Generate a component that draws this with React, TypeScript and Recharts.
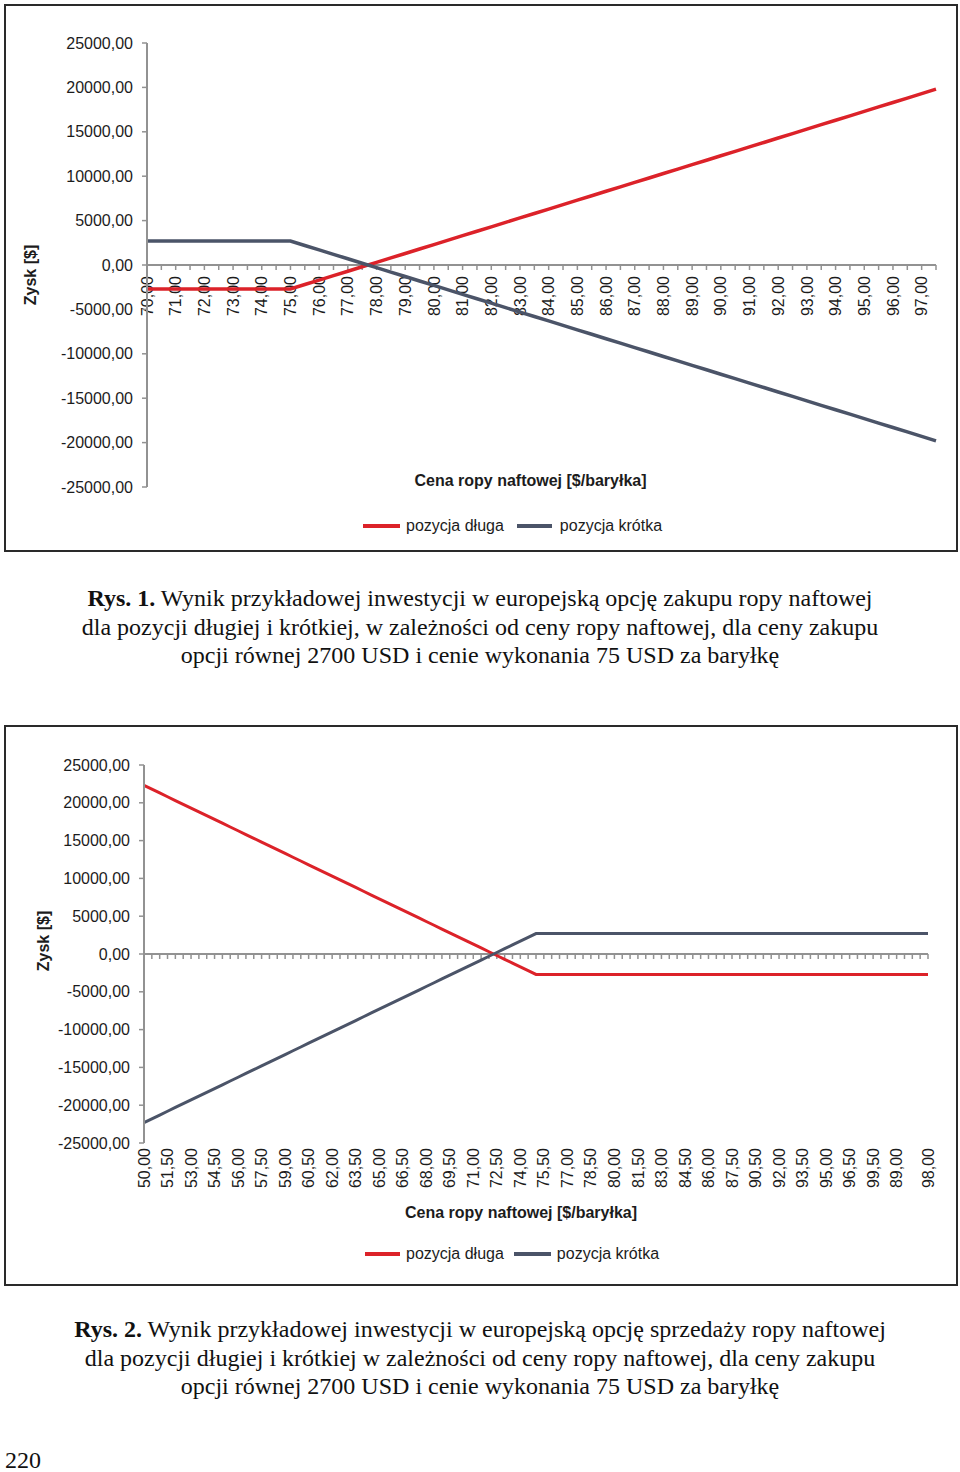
import React from 'react';
import { LineChart, Line, XAxis, YAxis, ReferenceLine, Legend } from 'recharts';

// ---------- Data: Rys. 1 (call option) ----------
const prices1 = [
  70, 70.5, 71, 71.5, 72, 72.5, 73, 73.5, 74, 74.5, 75, 75.5, 76, 76.5, 77, 77.5, 78, 78.5, 79, 79.5,
  80, 80.5, 81, 81.5, 82, 82.5, 83, 83.5, 84, 84.5, 85, 85.5, 86, 86.5, 87, 87.5, 88, 88.5, 89, 89.5,
  90, 90.5, 91, 91.5, 92, 92.5, 93, 93.5, 94, 94.5, 95, 95.5, 96, 96.5, 97, 97.5,
];
const long1 = [
  -2700, -2700, -2700, -2700, -2700, -2700, -2700, -2700, -2700, -2700, -2700, -2200, -1700, -1200, -700, -200,
  300, 800, 1300, 1800, 2300, 2800, 3300, 3800, 4300, 4800, 5300, 5800, 6300, 6800, 7300, 7800, 8300, 8800,
  9300, 9800, 10300, 10800, 11300, 11800, 12300, 12800, 13300, 13800, 14300, 14800, 15300, 15800, 16300,
  16800, 17300, 17800, 18300, 18800, 19300, 19800,
];
const short1 = [
  2700, 2700, 2700, 2700, 2700, 2700, 2700, 2700, 2700, 2700, 2700, 2200, 1700, 1200, 700, 200,
  -300, -800, -1300, -1800, -2300, -2800, -3300, -3800, -4300, -4800, -5300, -5800, -6300, -6800, -7300,
  -7800, -8300, -8800, -9300, -9800, -10300, -10800, -11300, -11800, -12300, -12800, -13300, -13800, -14300,
  -14800, -15300, -15800, -16300, -16800, -17300, -17800, -18300, -18800, -19300, -19800,
];

// ---------- Data: Rys. 2 (put option) ----------
const prices2 = [
  50, 50.5, 51, 51.5, 52, 52.5, 53, 53.5, 54, 54.5, 55, 55.5, 56, 56.5, 57, 57.5, 58, 58.5, 59, 59.5,
  60, 60.5, 61, 61.5, 62, 62.5, 63, 63.5, 64, 64.5, 65, 65.5, 66, 66.5, 67, 67.5, 68, 68.5, 69, 69.5,
  70, 70.5, 71, 71.5, 72, 72.5, 73, 73.5, 74, 74.5, 75, 75.5, 76, 76.5, 77, 77.5, 78, 78.5, 79, 79.5,
  80, 80.5, 81, 81.5, 82, 82.5, 83, 83.5, 84, 84.5, 85, 85.5, 86, 86.5, 87, 87.5, 88, 88.5, 89, 89.5,
  90, 90.5, 91, 91.5, 92, 92.5, 93, 93.5, 94, 94.5, 95, 95.5, 96, 96.5, 97, 97.5, 98, 98.5, 99, 99.5, 100,
];
const long2 = [
  22300, 21800, 21300, 20800, 20300, 19800, 19300, 18800, 18300, 17800, 17300, 16800, 16300, 15800, 15300,
  14800, 14300, 13800, 13300, 12800, 12300, 11800, 11300, 10800, 10300, 9800, 9300, 8800, 8300, 7800, 7300,
  6800, 6300, 5800, 5300, 4800, 4300, 3800, 3300, 2800, 2300, 1800, 1300, 800, 300, -200, -700, -1200, -1700,
  -2200, -2700,
  -2700, -2700, -2700, -2700, -2700, -2700, -2700, -2700, -2700, -2700, -2700, -2700, -2700, -2700, -2700,
  -2700, -2700, -2700, -2700, -2700, -2700, -2700, -2700, -2700, -2700, -2700, -2700, -2700, -2700, -2700,
  -2700, -2700, -2700, -2700, -2700, -2700, -2700, -2700, -2700, -2700, -2700, -2700, -2700, -2700, -2700,
  -2700, -2700, -2700, -2700, -2700,
];
const short2 = [
  -22300, -21800, -21300, -20800, -20300, -19800, -19300, -18800, -18300, -17800, -17300, -16800, -16300,
  -15800, -15300, -14800, -14300, -13800, -13300, -12800, -12300, -11800, -11300, -10800, -10300, -9800,
  -9300, -8800, -8300, -7800, -7300, -6800, -6300, -5800, -5300, -4800, -4300, -3800, -3300, -2800, -2300,
  -1800, -1300, -800, -300, 200, 700, 1200, 1700, 2200, 2700,
  2700, 2700, 2700, 2700, 2700, 2700, 2700, 2700, 2700, 2700, 2700, 2700, 2700, 2700, 2700,
  2700, 2700, 2700, 2700, 2700, 2700, 2700, 2700, 2700, 2700, 2700, 2700, 2700, 2700, 2700,
  2700, 2700, 2700, 2700, 2700, 2700, 2700, 2700, 2700, 2700, 2700, 2700, 2700, 2700, 2700,
  2700, 2700, 2700, 2700, 2700,
];
const ticks2 = [
  50, 51.5, 53, 54.5, 56, 57.5, 59, 60.5, 62, 63.5, 65, 66.5, 68, 69.5, 71, 72.5, 74, 75.5, 77, 78.5,
  80, 81.5, 83, 84.5, 86, 87.5, 89, 90.5, 92, 93.5, 95, 96.5, 98, 100,
];
const tickLabels2 = [
  '50,00', '51,50', '53,00', '54,50', '56,00', '57,50', '59,00', '60,50', '62,00', '63,50', '65,00', '66,50',
  '68,00', '69,50', '71,00', '72,50', '74,00', '75,50', '77,00', '78,50', '80,00', '81,50', '83,00', '84,50',
  '86,00', '87,50', '90,50', '92,00', '93,50', '95,00', '96,50', '99,50', '89,00', '98,00',
];

const yTicks = [-25000, -20000, -15000, -10000, -5000, 0, 5000, 10000, 15000, 20000, 25000];

const seriesNames = ['pozycja długa', 'pozycja krótka'];
const yTitle = 'Zysk [$]';
const xTitle = 'Cena ropy naftowej [$/baryłka]';

const data1 = prices1.map((p, i) => ({ price: p, long: long1[i], short: short1[i] }));
const data2 = prices2.map((p, i) => ({ price: p, long: long2[i], short: short2[i] }));

// ---------- Styles ----------
const RED = '#dc2229';
const NAVY = '#4b5468';
const AXIS = '#929292';
const TEXT = '#1c1c1c';
const SANS = '"Liberation Sans", Arial, sans-serif';
const SERIF = '"Liberation Serif", "Times New Roman", serif';

const fmt = (v: number) => v.toFixed(2).replace('.', ',');

// zero-crossing axis with a tick at every category (and labels for chart 1)
const makeZeroAxis = (prices: number[], withLabels: boolean) => (props: any) => {
  const { x1, x2, y1 } = props;
  const n = prices.length;
  const step = (x2 - x1) / (n - 1);
  return (
    <g>
      <line x1={x1} x2={x2} y1={y1} y2={y1} stroke={AXIS} strokeWidth={2} />
      {prices.map((p, i) => {
        const x = x1 + i * step;
        return (
          <g key={i}>
            <line x1={x} x2={x} y1={y1} y2={y1 + 5} stroke={AXIS} strokeWidth={1.5} />
            {withLabels && Number.isInteger(p) && (
              <text
                transform={`translate(${x},${y1 + 11}) rotate(-90)`}
                textAnchor="end"
                dy="0.35em"
                fill={TEXT}
                fontSize={16}
                fontFamily={SANS}
              >
                {fmt(p)}
              </text>
            )}
          </g>
        );
      })}
    </g>
  );
};

const makeYTitle = (dy: number, xPos: number) => (props: any) => {
  const vb = props.viewBox;
  const cy = vb.y + vb.height / 2 + dy;
  return (
    <text
      transform={`translate(${xPos},${cy}) rotate(-90)`}
      textAnchor="middle"
      dy="0.35em"
      fontSize={16}
      fontWeight="bold"
      fontFamily={SANS}
      fill={TEXT}
    >
      {yTitle}
    </text>
  );
};

const makeXTitle = (dx: number, dy: number) => (props: any) => {
  const vb = props.viewBox;
  return (
    <text
      x={vb.x + vb.width / 2 + dx}
      y={vb.y + dy}
      textAnchor="middle"
      dy="0.35em"
      fontSize={16}
      fontWeight="bold"
      fontFamily={SANS}
      fill={TEXT}
    >
      {xTitle}
    </text>
  );
};

const makeLegend = (lineW: number[], textGap: number[], itemGap: number) => (props: any) => {
  const payload = props.payload || [];
  return (
    <div style={{ display: 'flex', alignItems: 'center', fontFamily: SANS, fontSize: 16, color: TEXT, whiteSpace: 'nowrap' }}>
      {payload.map((entry: any, i: number) => (
        <div key={i} style={{ display: 'flex', alignItems: 'center', marginRight: i === 0 ? itemGap : 0 }}>
          <svg width={lineW[i]} height={6} style={{ marginRight: textGap[i] }}>
            <line x1={0} x2={lineW[i]} y1={3} y2={3} stroke={entry.color} strokeWidth={4} />
          </svg>
          <span>{entry.value}</span>
        </div>
      ))}
    </div>
  );
};

const Tick2 = (props: any) => {
  const { x, y, payload } = props;
  const idx = ticks2.indexOf(payload.value);
  return (
    <text
      transform={`translate(${x},${y}) rotate(-90)`}
      textAnchor="end"
      dy="0.35em"
      fill={TEXT}
      fontSize={16}
      fontFamily={SANS}
    >
      {tickLabels2[idx]}
    </text>
  );
};

const yAxisCommon = {
  domain: [-25000, 25000] as [number, number],
  ticks: yTicks,
  interval: 0 as const,
  tickFormatter: fmt,
  tickSize: 5,
  tickMargin: 9,
  axisLine: { stroke: AXIS, strokeWidth: 2 },
  tickLine: { stroke: AXIS, strokeWidth: 1.5 },
  tick: { fill: TEXT, fontSize: 16, fontFamily: SANS },
  allowDataOverflow: true,
};

const Frame = ({ children, left, top, width, height }: any) => (
  <div style={{ position: 'absolute', left, top, width, height }}>
    {children}
    <div
      style={{
        position: 'absolute', left: 0, top: 0, width, height,
        border: '2px solid #2a2a2a', boxSizing: 'border-box', pointerEvents: 'none',
      }}
    />
  </div>
);

const captionStyle: React.CSSProperties = {
  position: 'absolute',
  left: 0,
  width: 960,
  textAlign: 'center',
  fontFamily: SERIF,
  fontSize: 24,
  lineHeight: '28.5px',
  color: '#111',
};

export default function App() {
  return (
    <div style={{ position: 'absolute', left: 0, top: 0, width: 960, height: 1472, background: '#fff', overflow: 'hidden' }}>
      {/* ---------- Rys. 1 ---------- */}
      <Frame left={4} top={4} width={954} height={548}>
        <LineChart width={954} height={548} data={data1} margin={{ top: 39, right: 22, bottom: 0, left: 0 }}>
          <XAxis
            dataKey="price"
            type="category"
            height={65}
            tick={false}
            axisLine={false}
            tickLine={false}
            label={{ content: makeXTitle(-11, -7) } as any}
          />
          <YAxis {...yAxisCommon} width={143} label={{ content: makeYTitle(10, 26) } as any} />
          <ReferenceLine y={0} shape={makeZeroAxis(prices1, true)} />
          <Line type="linear" dataKey="long" name={seriesNames[0]} stroke={RED} strokeWidth={3.5} dot={false} activeDot={false} isAnimationActive={false} />
          <Line type="linear" dataKey="short" name={seriesNames[1]} stroke={NAVY} strokeWidth={3.5} dot={false} activeDot={false} isAnimationActive={false} />
          <Legend
            layout="horizontal"
            verticalAlign="middle"
            align="center"
            content={makeLegend([37, 35], [6, 8], 13)}
            wrapperStyle={{ left: 359, top: 513, width: 330, height: 22 }}
          />
        </LineChart>
      </Frame>

      <div style={{ ...captionStyle, top: 584 }}>
        <b>Rys. 1.</b> Wynik przykładowej inwestycji w europejską opcję zakupu ropy naftowej
        <br />
        dla pozycji długiej i krótkiej, w zależności od ceny ropy naftowej, dla ceny zakupu
        <br />
        opcji równej 2700 USD i cenie wykonania 75 USD za baryłkę
      </div>

      {/* ---------- Rys. 2 ---------- */}
      <Frame left={4} top={725} width={954} height={561}>
        <LineChart width={954} height={561} data={data2} margin={{ top: 40, right: 30, bottom: 0, left: 0 }}>
          <XAxis
            dataKey="price"
            type="category"
            height={143}
            ticks={ticks2}
            interval={0}
            tick={<Tick2 />}
            tickSize={0}
            tickMargin={5}
            axisLine={false}
            tickLine={false}
            label={{ content: makeXTitle(-15, 69) } as any}
          />
          <YAxis {...yAxisCommon} width={140} label={{ content: makeYTitle(-13, 39) } as any} />
          <ReferenceLine y={0} shape={makeZeroAxis(prices2, false)} />
          <Line type="linear" dataKey="long" name={seriesNames[0]} stroke={RED} strokeWidth={3} dot={false} activeDot={false} isAnimationActive={false} />
          <Line type="linear" dataKey="short" name={seriesNames[1]} stroke={NAVY} strokeWidth={3} dot={false} activeDot={false} isAnimationActive={false} />
          <Legend
            layout="horizontal"
            verticalAlign="middle"
            align="center"
            content={makeLegend([35, 37], [6, 6], 10)}
            wrapperStyle={{ left: 361, top: 520, width: 330, height: 22 }}
          />
        </LineChart>
      </Frame>

      <div style={{ ...captionStyle, top: 1315 }}>
        <b>Rys. 2.</b> Wynik przykładowej inwestycji w europejską opcję sprzedaży ropy naftowej
        <br />
        dla pozycji długiej i krótkiej w zależności od ceny ropy naftowej, dla ceny zakupu
        <br />
        opcji równej 2700 USD i cenie wykonania 75 USD za baryłkę
      </div>

      <div style={{ position: 'absolute', left: 5, top: 1450, fontFamily: SERIF, fontSize: 24, lineHeight: '20px', color: '#111' }}>
        220
      </div>
    </div>
  );
}
